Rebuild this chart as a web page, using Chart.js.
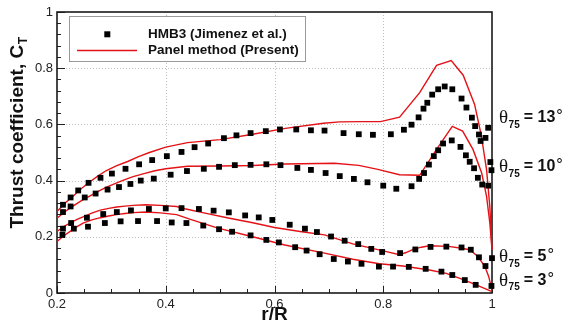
<!DOCTYPE html>
<html><head><meta charset="utf-8">
<script src="https://cdn.jsdelivr.net/npm/chart.js@4/dist/chart.umd.min.js"></script>
<style>html,body{margin:0;padding:0;background:#fff;}#wrap{width:563px;height:326px;position:relative;}</style>
</head><body><div id="wrap"><canvas id="c" width="563" height="326"></canvas></div>
<script>
// ---- data (r/R, thrust coefficient C_T) ----
const seriesNames = ['HMB3 (Jimenez et al.)', 'Panel method (Present)'];
const pitchLabels = ['13', '10', '5', '3'];

const hmb13R  = [0.211,0.225,0.239,0.258,0.280,0.301,0.326,0.351,0.375,0.402,0.429,0.453,0.478,0.507,0.530,0.556,0.584,0.610,0.640,0.667,0.692,0.727,0.755,0.781,0.814,0.838,0.852,0.865,0.874,0.881,0.890,0.901,0.913,0.927,0.944,0.953,0.963,0.969,0.976,0.979,0.988,0.993,0.997];
const hmb13CT = [0.314,0.340,0.365,0.392,0.410,0.425,0.442,0.458,0.473,0.487,0.502,0.519,0.532,0.551,0.561,0.569,0.576,0.582,0.582,0.579,0.578,0.569,0.565,0.563,0.565,0.581,0.599,0.625,0.656,0.677,0.706,0.725,0.735,0.725,0.692,0.660,0.624,0.594,0.564,0.541,0.552,0.588,0.466];

const hmb10R  = [0.211,0.225,0.251,0.271,0.293,0.314,0.335,0.354,0.378,0.409,0.439,0.470,0.498,0.527,0.556,0.585,0.611,0.642,0.667,0.694,0.720,0.746,0.771,0.800,0.824,0.852,0.866,0.875,0.884,0.893,0.901,0.910,0.926,0.942,0.952,0.959,0.967,0.974,0.982,0.993,0.999];
const hmb10CT = [0.288,0.308,0.340,0.354,0.368,0.377,0.388,0.400,0.407,0.421,0.434,0.442,0.449,0.455,0.456,0.458,0.455,0.445,0.438,0.427,0.416,0.406,0.394,0.382,0.371,0.380,0.406,0.427,0.457,0.487,0.508,0.532,0.543,0.520,0.490,0.467,0.444,0.410,0.386,0.382,0.437];

const hmb5R  = [0.211,0.226,0.255,0.285,0.310,0.336,0.369,0.400,0.429,0.461,0.488,0.516,0.546,0.571,0.596,0.628,0.656,0.678,0.704,0.729,0.754,0.778,0.798,0.831,0.859,0.887,0.916,0.944,0.961,0.976,0.988,1.0];
const hmb5CT = [0.229,0.249,0.268,0.281,0.288,0.294,0.299,0.301,0.302,0.299,0.293,0.287,0.276,0.269,0.260,0.243,0.229,0.217,0.201,0.186,0.174,0.157,0.146,0.142,0.155,0.164,0.165,0.162,0.154,0.127,0.096,0.124];

const hmb3R  = [0.210,0.231,0.257,0.288,0.317,0.349,0.384,0.411,0.438,0.469,0.498,0.522,0.556,0.585,0.608,0.638,0.659,0.683,0.709,0.735,0.760,0.792,0.818,0.847,0.878,0.907,0.927,0.950,0.970,0.999];
const hmb3CT = [0.207,0.229,0.236,0.249,0.255,0.256,0.256,0.251,0.249,0.240,0.227,0.218,0.205,0.189,0.180,0.163,0.151,0.138,0.121,0.112,0.104,0.094,0.094,0.093,0.086,0.076,0.064,0.046,0.029,0.025];

const pan13R  = [0.2,0.215,0.23,0.245,0.26,0.275,0.29,0.31,0.33,0.35,0.37,0.40,0.44,0.50,0.56,0.62,0.69,0.72,0.76,0.795,0.83,0.867,0.898,0.925,0.947,0.968,0.980,0.990,0.996,1.0];
const pan13CT = [0.290,0.320,0.345,0.372,0.395,0.416,0.435,0.453,0.468,0.485,0.500,0.519,0.535,0.546,0.565,0.586,0.604,0.609,0.610,0.610,0.626,0.713,0.810,0.827,0.775,0.671,0.564,0.439,0.308,0.154];

const pan10R  = [0.2,0.215,0.23,0.245,0.26,0.275,0.29,0.32,0.34,0.36,0.38,0.40,0.44,0.50,0.56,0.62,0.71,0.755,0.79,0.83,0.867,0.898,0.927,0.946,0.965,0.981,0.990,0.996,1.0];
const pan10CT = [0.266,0.290,0.310,0.329,0.345,0.361,0.376,0.400,0.414,0.425,0.435,0.442,0.451,0.452,0.454,0.459,0.462,0.454,0.440,0.421,0.419,0.511,0.593,0.576,0.511,0.427,0.344,0.249,0.154];

const pan5R  = [0.2,0.212,0.225,0.237,0.25,0.265,0.28,0.295,0.31,0.325,0.34,0.364,0.39,0.42,0.435,0.47,0.515,0.56,0.60,0.65,0.692,0.744,0.80,0.83,0.842,0.855,0.87,0.885,0.92,0.941,0.959,0.974,0.987,0.994,1.0];
const pan5CT = [0.219,0.236,0.250,0.262,0.273,0.285,0.295,0.301,0.306,0.309,0.312,0.314,0.312,0.308,0.300,0.285,0.267,0.250,0.233,0.218,0.207,0.175,0.150,0.136,0.144,0.155,0.163,0.168,0.166,0.160,0.154,0.130,0.094,0.058,0.010];

const pan3R  = [0.2,0.212,0.225,0.237,0.248,0.264,0.28,0.295,0.309,0.325,0.34,0.364,0.39,0.42,0.444,0.496,0.558,0.619,0.692,0.744,0.793,0.836,0.885,0.916,0.941,0.97,1.0];
const pan3CT = [0.183,0.203,0.220,0.236,0.249,0.260,0.268,0.274,0.279,0.283,0.286,0.288,0.285,0.279,0.263,0.231,0.201,0.171,0.142,0.120,0.104,0.096,0.082,0.070,0.052,0.030,0.005];

const xTickVals = [0.2,0.4,0.6,0.8,1];
const yTickVals = [0,0.2,0.4,0.6,0.8,1];

// ---- helpers ----
const pts = (r, c) => r.map((v, i) => ({x: v, y: c[i]}));
const RED = 'rgb(228,18,22)';
const markerSet = (r, c) => ({data: pts(r, c), showLine: false, pointStyle: 'rect', pointRadius: 4.1,
  pointBackgroundColor: '#000', pointBorderWidth: 0, pointBorderColor: '#000', clip: false});
const lineSet = (r, c) => ({data: pts(r, c), showLine: true, pointRadius: 0, borderColor: RED,
  borderWidth: 1.4, tension: 0, fill: false, clip: false});

const labelCT = [0.623, 0.449, 0.129, 0.044];

const decor = {
  id: 'decor',
  beforeDatasetsDraw(chart) {
    const {ctx, chartArea: a, scales: {x, y}} = chart;
    ctx.save();
    ctx.strokeStyle = '#bdbdbd'; ctx.lineWidth = 1; ctx.setLineDash([1, 2]);
    xTickVals.forEach(v => {
      if (v <= 0.2 || v >= 1) return;
      const px = Math.round(x.getPixelForValue(v)) + 0.5;
      ctx.beginPath(); ctx.moveTo(px, a.top); ctx.lineTo(px, a.bottom); ctx.stroke();
    });
    yTickVals.forEach(v => {
      if (v <= 0 || v >= 1) return;
      const py = Math.round(y.getPixelForValue(v)) + 0.5;
      ctx.beginPath(); ctx.moveTo(a.left, py); ctx.lineTo(a.right, py); ctx.stroke();
    });
    ctx.setLineDash([]);
    ctx.strokeStyle = '#222'; ctx.lineWidth = 1;
    for (let k = 0; k <= 16; k++) {
      const v = 0.2 + k * 0.05; const px = Math.round(x.getPixelForValue(v)) + 0.5;
      const len = (k % 4 === 0) ? 7 : 4;
      ctx.beginPath(); ctx.moveTo(px, a.bottom); ctx.lineTo(px, a.bottom - len); ctx.stroke();
    }
    for (let k = 0; k <= 25; k++) {
      const v = k * 0.04; const py = Math.round(y.getPixelForValue(v)) + 0.5;
      const len = (k % 5 === 0) ? 8 : 4;
      ctx.beginPath(); ctx.moveTo(a.left, py); ctx.lineTo(a.left + len, py); ctx.stroke();
    }
    ctx.strokeStyle = '#1a1a1a'; ctx.lineWidth = 1.6;
    ctx.strokeRect(a.left, a.top, a.right - a.left, a.bottom - a.top);
    ctx.restore();
  },
  afterDatasetsDraw(chart) {
    const {ctx, chartArea: a, scales: {x, y}} = chart;
    ctx.save();
    ctx.fillStyle = '#fff'; ctx.fillRect(69.5, 16.5, 236, 45);
    ctx.strokeStyle = '#9a9a9a'; ctx.lineWidth = 1; ctx.strokeRect(69.5, 16.5, 236, 45);
    ctx.fillStyle = '#000'; ctx.fillRect(104.3, 31.3, 6, 6);
    ctx.strokeStyle = RED; ctx.lineWidth = 1.4;
    ctx.beginPath(); ctx.moveTo(77, 50.5); ctx.lineTo(137, 50.5); ctx.stroke();
    ctx.fillStyle = '#111'; ctx.font = 'bold 13.5px "Liberation Sans", Arial, sans-serif';
    ctx.textBaseline = 'middle'; ctx.textAlign = 'left';
    ctx.fillText(seriesNames[0], 148, 34.5);
    ctx.fillText(seriesNames[1], 148, 50.5);
    pitchLabels.forEach((t, i) => {
      const py = y.getPixelForValue(labelCT[i]);
      let px = 499;
      ctx.font = '19px "Liberation Serif", "Times New Roman", serif';
      ctx.fillStyle = '#111';
      ctx.fillText('\u03B8', px, py);
      px += ctx.measureText('\u03B8').width + 0.5;
      ctx.font = 'bold 10px "Liberation Sans", Arial, sans-serif';
      ctx.fillText('75', px, py + 7);
      px += ctx.measureText('75').width + 4;
      ctx.font = 'bold 16px "Liberation Sans", Arial, sans-serif';
      ctx.fillText('= ' + t, px, py);
      px += ctx.measureText('= ' + t).width + 0.5;
      ctx.font = '15px "DejaVu Sans", sans-serif';
      ctx.fillText('\u00B0', px, py - 1);
    });
    ctx.font = 'bold 19px "Liberation Sans", Arial, sans-serif';
    ctx.textAlign = 'center'; ctx.textBaseline = 'middle';
    ctx.fillText('r/R', (a.left + a.right) / 2, 315);
    ctx.save();
    ctx.translate(18, 133);
    ctx.rotate(-Math.PI / 2);
    ctx.textAlign = 'left';
    const main = 'Thrust coefficient, C';
    ctx.font = 'bold 19px "Liberation Sans", Arial, sans-serif';
    const w1 = ctx.measureText(main).width;
    ctx.font = 'bold 12px "Liberation Sans", Arial, sans-serif';
    const w2 = ctx.measureText('T').width;
    const start = -(w1 + w2) / 2;
    ctx.font = 'bold 19px "Liberation Sans", Arial, sans-serif';
    ctx.fillText(main, start, 0);
    ctx.font = 'bold 12px "Liberation Sans", Arial, sans-serif';
    ctx.fillText('T', start + w1 + 0.5, 6);
    ctx.restore();
    ctx.restore();
  }
};

new Chart(document.getElementById('c'), {
  type: 'scatter',
  data: {
    datasets: [
      markerSet(hmb13R, hmb13CT), markerSet(hmb10R, hmb10CT),
      markerSet(hmb5R, hmb5CT), markerSet(hmb3R, hmb3CT),
      lineSet(pan13R, pan13CT), lineSet(pan10R, pan10CT),
      lineSet(pan5R, pan5CT), lineSet(pan3R, pan3CT)
    ]
  },
  options: {
    responsive: false, animation: false, events: [],
    layout: {padding: {left: 0, right: 71, top: 12, bottom: 0}},
    plugins: {legend: {display: false}, tooltip: {enabled: false}},
    scales: {
      x: {type: 'linear', min: 0.2, max: 1,
        afterBuildTicks: s => { s.ticks = xTickVals.map(v => ({value: v})); },
        afterFit: s => { s.height = 33; },
        grid: {display: false, drawTicks: false}, border: {display: false},
        ticks: {padding: 4, color: '#222', font: {family: '"Liberation Sans", Arial, sans-serif', size: 13},
          callback: v => String(+(+v).toFixed(2))}},
      y: {type: 'linear', min: 0, max: 1,
        afterBuildTicks: s => { s.ticks = yTickVals.map(v => ({value: v})); },
        afterFit: s => { s.width = 57; },
        grid: {display: false, drawTicks: false}, border: {display: false},
        ticks: {padding: 4, color: '#222', font: {family: '"Liberation Sans", Arial, sans-serif', size: 13},
          callback: v => String(+(+v).toFixed(2))}}
    }
  },
  plugins: [decor]
});
</script>
</body></html>
